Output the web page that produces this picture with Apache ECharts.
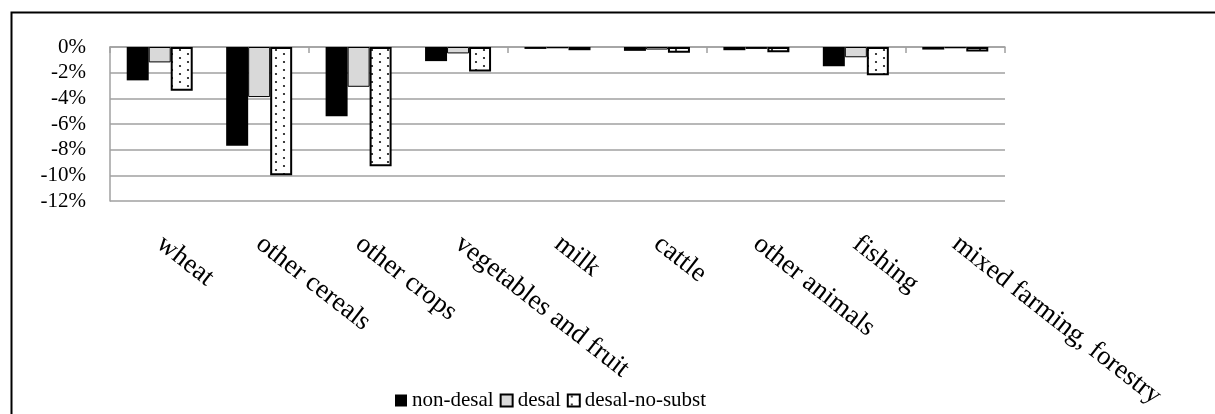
<!DOCTYPE html>
<html>
<head>
<meta charset="utf-8">
<style>
html,body{margin:0;padding:0;background:#fff;}
#chart{width:1215px;height:414px;}
</style>
<script src="https://cdn.jsdelivr.net/npm/echarts@6/dist/echarts.min.js"></script>
</head>
<body>
<div id="chart"></div>
<script>
const categories = ['wheat','other cereals','other crops','vegetables and fruit','milk','cattle','other animals','fishing','mixed farming, forestry'];
const nonDesal = [-2.6, -7.7, -5.4, -1.1, -0.15, -0.3, -0.25, -1.5, -0.2];
const desal = [-1.2, -3.9, -3.1, -0.5, -0.1, -0.2, -0.15, -0.8, -0.1];
const desalNoSubst = [-3.4, -10.0, -9.3, -1.9, -0.25, -0.45, -0.4, -2.2, -0.35];
const seriesNames = ['non-desal', 'desal', 'desal-no-subst'];

const FONT = 'Liberation Serif';

function dotPattern() {
  const c = document.createElement('canvas');
  c.width = 16; c.height = 8;
  const g = c.getContext('2d');
  g.fillStyle = '#fff';
  g.fillRect(0, 0, 16, 8);
  g.fillStyle = '#111';
  g.beginPath(); g.arc(4, 2, 1.1, 0, Math.PI * 2); g.fill();
  g.beginPath(); g.arc(12, 6, 1.1, 0, Math.PI * 2); g.fill();
  return c;
}

const chart = echarts.init(document.getElementById('chart'), null, {renderer: 'canvas'});
const gridColor = '#a0a0a0';

chart.setOption({
  animation: false,
  backgroundColor: '#fff',
  graphic: [{
    type: 'rect', left: 9, top: 10,
    shape: {width: 1220, height: 420},
    style: {fill: 'none', stroke: '#000', lineWidth: 2},
    silent: true, z: 100
  }],
  legend: {
    left: 390, top: 385,
    itemWidth: 12, itemHeight: 12, itemGap: 6,
    icon: 'rect',
    textStyle: {fontFamily: FONT, fontSize: 21, color: '#000'},
    data: seriesNames
  },
  grid: {left: 110, right: 210, top: 47, bottom: 213, containLabel: false},
  xAxis: [{
    type: 'category', data: categories, position: 'bottom',
    axisLine: {show: false, onZero: false}, axisTick: {show: false},
    splitLine: {show: false},
    axisLabel: {rotate: -38, margin: 40, interval: 0, fontFamily: FONT, fontSize: 27, color: '#000'}
  }, {
    type: 'category', data: categories, position: 'top',
    axisLine: {show: true, onZero: false, lineStyle: {color: gridColor, width: 1.5}},
    axisTick: {show: true, inside: true, length: 6, lineStyle: {color: gridColor, width: 1.5}},
    axisLabel: {show: false}, splitLine: {show: false}
  }],
  yAxis: {
    type: 'value', min: -12, max: 0, interval: 2,
    axisLine: {show: true, lineStyle: {color: gridColor, width: 1.5}},
    axisTick: {show: false},
    splitLine: {show: true, lineStyle: {color: gridColor, width: 1.5}},
    axisLabel: {margin: 24, fontFamily: FONT, fontSize: 21, color: '#000', formatter: v => v + '%'}
  },
  series: [{
    name: seriesNames[0], type: 'bar', xAxisIndex: 0, data: nonDesal,
    barWidth: 22, barGap: '0%',
    itemStyle: {color: '#000'}
  }, {
    name: seriesNames[1], type: 'bar', xAxisIndex: 0, data: desal,
    barWidth: 22, barGap: '0%',
    itemStyle: {color: '#d9d9d9', borderColor: '#000', borderWidth: 1}
  }, {
    name: seriesNames[2], type: 'bar', xAxisIndex: 0, data: desalNoSubst,
    barWidth: 22, barGap: '0%',
    itemStyle: {color: {image: dotPattern(), repeat: 'repeat'}, borderColor: '#000', borderWidth: 2}
  }]
});
</script>
</body>
</html>
